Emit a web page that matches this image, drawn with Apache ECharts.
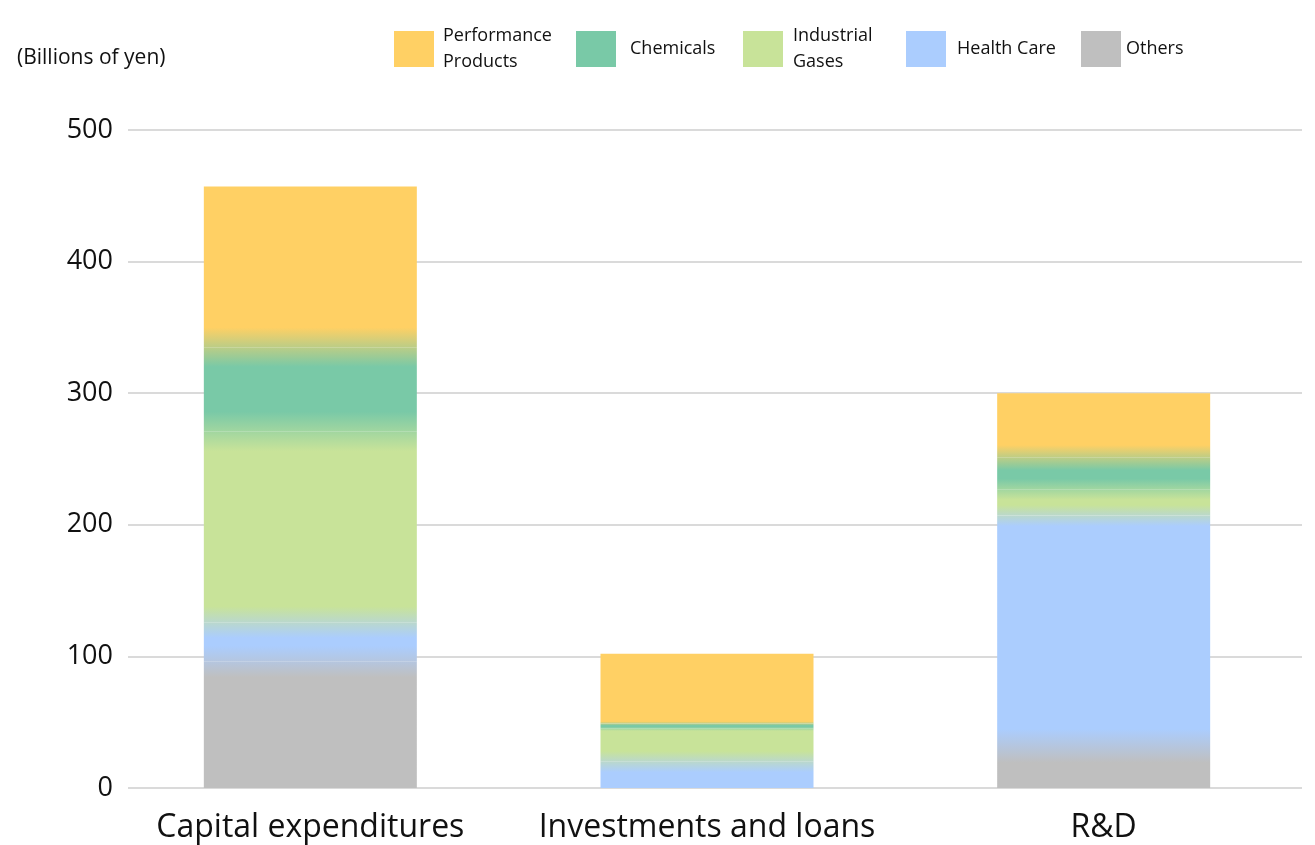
<!DOCTYPE html>
<html>
<head>
<meta charset="utf-8">
<title>Capital expenditures, investments and R&amp;D by segment</title>
<script src="https://cdn.jsdelivr.net/npm/echarts@6/dist/echarts.min.js"></script>
<style>
  html, body { margin: 0; padding: 0; background: #ffffff; }
  #chart { width: 1315px; height: 845px; }
</style>
</head>
<body>
<div id="chart"></div>
<script>
// Categories and segment values (billions of yen)
var categories = ['Capital expenditures', 'Investments and loans', 'R&D'];
var performanceProducts = [122, 53, 49];
var chemicals = [64, 4, 24];
var industrialGases = [145, 25, 20];
var healthCare = [30, 20, 175];
var others = [96, 0, 32];
var yTicks = [0, 100, 200, 300, 400, 500];

// Segments listed bottom to top of each stack
var segments = [
  { name: 'Others', legend: 'Others', values: others, color: '#BFBFBF' },
  { name: 'Health Care', legend: 'Health Care', values: healthCare, color: '#ABCDFE' },
  { name: 'Industrial Gases', legend: 'Industrial\nGases', values: industrialGases, color: '#C8E399' },
  { name: 'Chemicals', legend: 'Chemicals', values: chemicals, color: '#79C9A7' },
  { name: 'Performance Products', legend: 'Performance\nProducts', values: performanceProducts, color: '#FFD064' }
];

function hexToRgb(h) {
  var n = parseInt(h.slice(1), 16);
  return [(n >> 16) & 255, (n >> 8) & 255, n & 255];
}
function mix(a, b) {
  var p = hexToRgb(a), q = hexToRgb(b);
  return 'rgb(' + Math.round((p[0] + q[0]) / 2) + ',' + Math.round((p[1] + q[1]) / 2) + ',' + Math.round((p[2] + q[2]) / 2) + ')';
}

// Soft blend between neighbouring segments of a stack
var BLEND = 15;
function blendWidth(v1, v2) {
  return Math.min(BLEND, 0.4 * v1, 0.4 * v2);
}

function segmentFill(k, i) {
  var seg = segments[k];
  var v = seg.values[i];
  if (!(v > 0)) return seg.color;
  var below = null, above = null;
  for (var b = k - 1; b >= 0; b--) { if (segments[b].values[i] > 0) { below = segments[b]; break; } }
  for (var a = k + 1; a < segments.length; a++) { if (segments[a].values[i] > 0) { above = segments[a]; break; } }
  var stops = [];
  if (above) {
    var bt = blendWidth(v, above.values[i]) / v;
    stops.push({ offset: 0, color: mix(seg.color, above.color) });
    stops.push({ offset: bt, color: seg.color });
  } else {
    stops.push({ offset: 0, color: seg.color });
  }
  if (below) {
    var bb = blendWidth(v, below.values[i]) / v;
    stops.push({ offset: 1 - bb, color: seg.color });
    stops.push({ offset: 1, color: mix(seg.color, below.color) });
  } else {
    stops.push({ offset: 1, color: seg.color });
  }
  return new echarts.graphic.LinearGradient(0, 0, 0, 1, stops);
}

var series = segments.map(function (seg, k) {
  return {
    name: seg.name,
    type: 'bar',
    stack: 'total',
    xAxisIndex: 0,
    yAxisIndex: 0,
    barWidth: 213,
    itemStyle: { color: seg.color },
    emphasis: { disabled: true },
    data: seg.values.map(function (v, i) {
      return { value: v, itemStyle: { color: segmentFill(k, i) } };
    })
  };
});

// One legend block per segment, laid out left to right
var legendOrder = [4, 3, 2, 1, 0];
var legendLeft = [389, 571, 738, 901, 1076];
var legendTextGap = [4, 9, 5, 6, 0];
var legends = legendOrder.map(function (k, j) {
  var seg = segments[k];
  var twoLines = seg.legend.indexOf('\n') >= 0;
  return {
    left: legendLeft[j],
    top: twoLines ? 18 : 26,
    selectedMode: false,
    itemWidth: 40,
    itemHeight: 36,
    symbolKeepAspect: false,
    icon: 'rect',
    data: [{ name: seg.name, icon: 'rect', itemStyle: { color: seg.color, borderWidth: 0 } }],
    formatter: function () { return seg.legend; },
    textStyle: {
      fontFamily: 'Open Sans',
      fontSize: 18,
      lineHeight: 26,
      color: '#111111',
      padding: [0, 0, 0, legendTextGap[j]]
    }
  };
});

var chart = echarts.init(document.getElementById('chart'), null, { renderer: 'canvas' });

chart.setOption({
  backgroundColor: '#ffffff',
  animation: false,
  legend: legends,
  graphic: [{
    type: 'text',
    left: 17,
    top: 48,
    style: {
      text: '(Billions of yen)',
      fontFamily: 'Open Sans',
      fontSize: 21,
      fill: '#111111'
    }
  }],
  grid: [
    { left: 112, right: 13, top: 130, bottom: 57 },
    { left: 128, right: 13, top: 130, bottom: 57 }
  ],
  xAxis: [
    {
      type: 'category',
      gridIndex: 0,
      data: categories,
      axisLine: { show: false },
      axisTick: { show: false },
      axisLabel: {
        interval: 0,
        margin: 24,
        fontFamily: 'Open Sans',
        fontSize: 32,
        color: '#111111'
      }
    },
    { type: 'value', gridIndex: 1, show: false }
  ],
  yAxis: [
    {
      type: 'value',
      gridIndex: 0,
      min: yTicks[0],
      max: yTicks[yTicks.length - 1],
      interval: 100,
      show: false,
      splitLine: { show: false }
    },
    {
      type: 'value',
      gridIndex: 1,
      min: yTicks[0],
      max: yTicks[yTicks.length - 1],
      interval: yTicks[1] - yTicks[0],
      axisLine: { show: false },
      axisTick: { show: false },
      axisLabel: {
        margin: 15,
        fontFamily: 'Open Sans',
        fontSize: 27,
        color: '#111111'
      },
      splitLine: { lineStyle: { color: '#dadada', width: 2 } }
    }
  ],
  series: series
});
</script>
</body>
</html>
